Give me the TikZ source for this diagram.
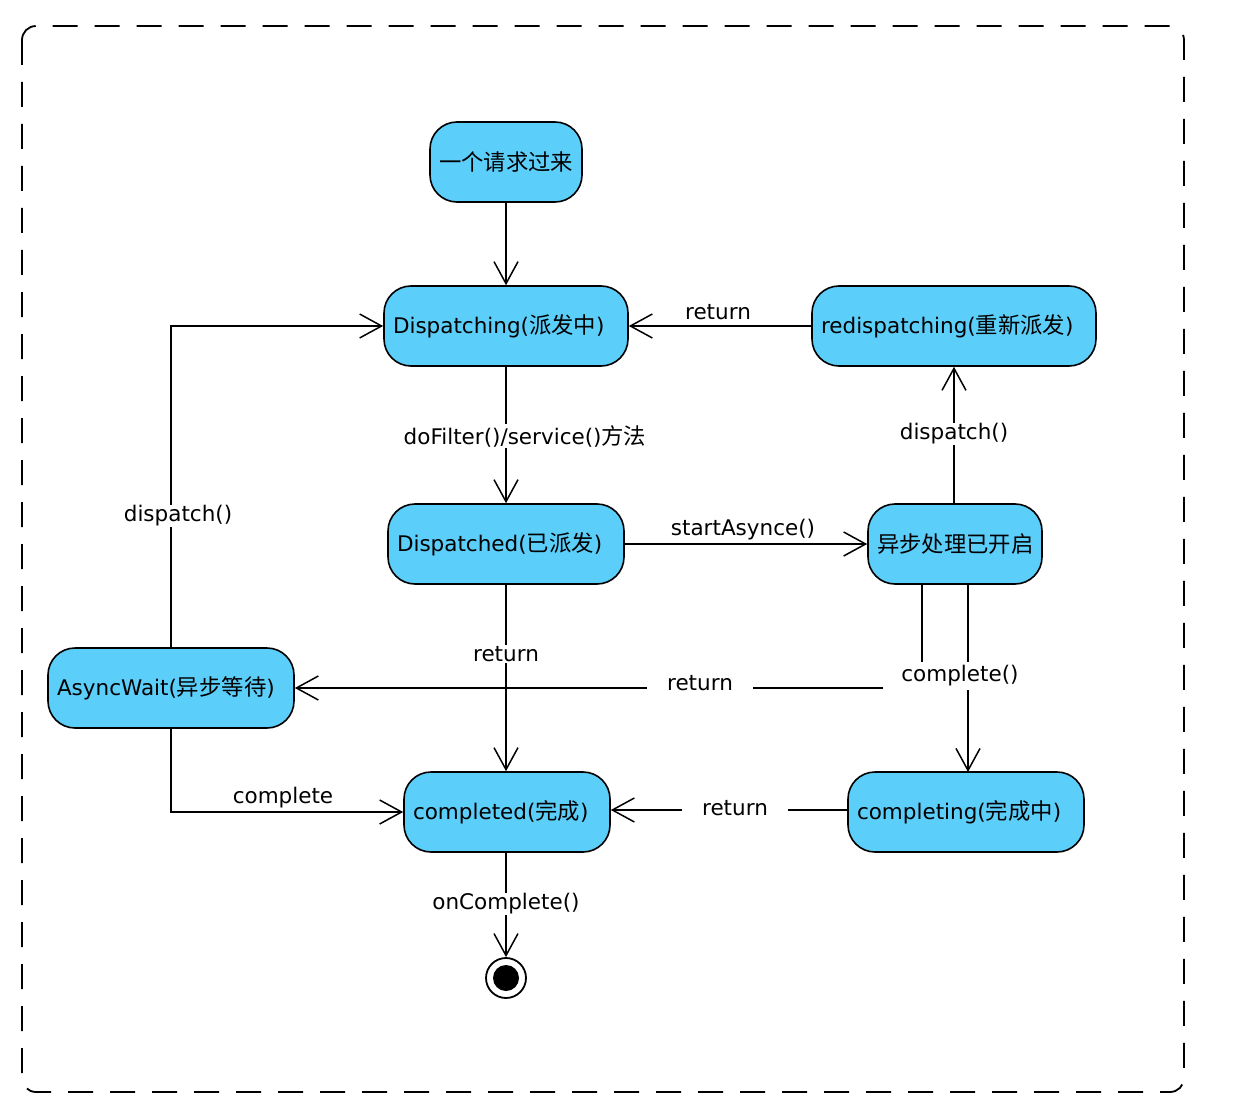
\documentclass[tikz,border=0pt]{standalone}
\usepackage{fontspec}
\setmainfont{DejaVu Sans}
\newfontfamily\cjk[Scale=1.04]{Noto Sans CJK SC}
\usetikzlibrary{arrows.meta}
\definecolor{stateblue}{RGB}{92,206,250}
\begin{document}
\begin{tikzpicture}[x=1pt,y=-1pt,
  font=\fontsize{21.5}{25}\selectfont,
  state/.style={draw=black, line width=1.6pt, fill=stateblue, rounded corners=27pt,
    minimum height=80pt, inner xsep=9pt, inner ysep=0pt, align=left, text=black},
  arr/.style={draw=black, line width=1.5pt, -{Straight Barb[length=22pt,width=24pt]}},
  lbl/.style={fill=white, inner xsep=2pt, inner ysep=1pt, text=black},
  lblgap/.style={fill=white, inner xsep=20pt, inner ysep=2pt, text=black}]
\useasboundingbox (0,0) rectangle (1248,1118);
% frame
\draw[line width=1.8pt, dash pattern=on 25pt off 17pt, rounded corners=14pt] (22,26) rectangle (1184,1092);
% states
\node[state, text width=134pt] (req) at (506,162) {\cjk 一个请求过来};
\node[state, text width=226pt] (disp) at (506,326) {Dispatching({\cjk 派发中})};
\node[state, text width=266pt] (redisp) at (954,326) {redispatching({\cjk 重新派发})};
\node[state, text width=218pt] (dispd) at (506,544) {Dispatched({\cjk 已派发})};
\node[state, text width=156pt] (async) at (955,544) {\cjk 异步处理已开启};
\node[state, text width=228pt] (wait) at (171,688) {AsyncWait({\cjk 异步等待})};
\node[state, text width=188pt] (completed) at (507,812) {completed({\cjk 完成})};
\node[state, text width=218pt] (completing) at (966,812) {completing({\cjk 完成中})};
\node[circle, draw=black, line width=1.8pt, minimum size=40pt, inner sep=0pt] (end) at (506,978) {};
\fill[black] (end.center) circle (13pt);
% coordinates
\coordinate (aL) at (922,584);
\coordinate (aR) at (968,584);
\coordinate (cTop) at (968,772);
% connectors
\draw[arr] (req) -- (disp);
\draw[arr] (redisp) -- (disp);
\draw[arr] (disp) -- (dispd);
\draw[arr] (dispd) -- (async);
\draw[arr] (async.north -| 954,0) -- (redisp.south -| 954,0);
\draw[arr] (aL) |- (wait.east);
\draw[arr] (aR) -- (cTop);
\draw[arr] (dispd.south -| 506,0) -- (completed.north -| 506,0);
\draw[arr] (wait.north) |- (disp.west);
\draw[arr] (wait.south) |- (completed.west);
\draw[arr] (completing.west |- 0,810) -- (completed.east |- 0,810);
\draw[arr] (completed.south -| 506,0) -- (end.north);
% labels
\node[lbl] (l1) at (718,312) {return};
\node[lbl] (l2) at (525,436) {doFilter()/service(){\cjk 方法}};
\node[lbl] (l3) at (743,530) {startAsynce()};
\node[lbl] (l4) at (954,434) {dispatch()};
\node[lblgap] (l5) at (700,683) {return};
\node[fill=white, inner xsep=18pt, inner ysep=4pt] (l6) at (960,676) {complete()};
\node[lbl] (l7) at (506,654) {return};
\node[lbl] (l8) at (178,516) {dispatch()};
\node[lbl] (l9) at (283,798) {complete};
\node[lblgap] (l10) at (735,808) {return};
\node[lbl] (l11) at (506,904) {onComplete()};
\end{tikzpicture}
\end{document}
